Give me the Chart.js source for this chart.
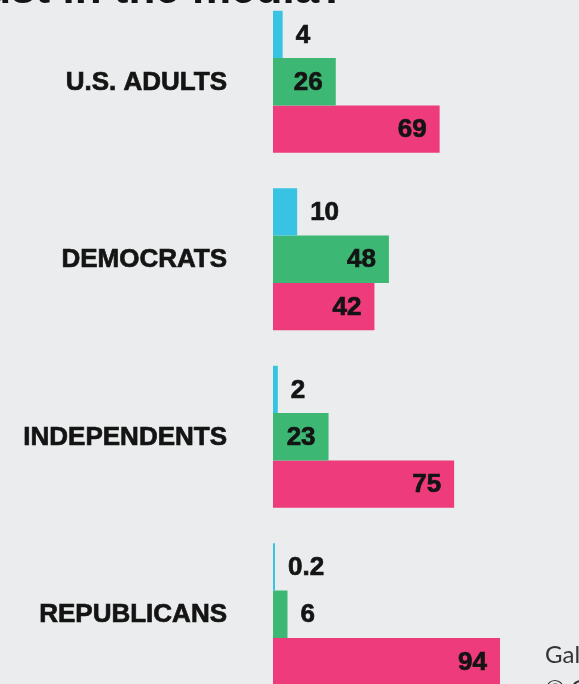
<!DOCTYPE html>
<html lang="en">
<head>
    <meta charset="UTF-8">
    <title>Trust in the media</title>
    <script src="https://cdn.jsdelivr.net/npm/chart.js"></script>
    <style>
        html, body { margin: 0; padding: 0; background: #ebeced; overflow: hidden; }
        .wrap { position: absolute; left: 0; top: -7px; width: 579px; height: 710px; }
    </style>
</head>
<body>
    <div class="wrap">
        <canvas id="barChart" width="579" height="710"></canvas>
    </div>

    <script>
        // Données
        const groups = ["U.S. ADULTS", "DEMOCRATS", "INDEPENDENTS", "REPUBLICANS"];
        const seriesNames = ["Great deal", "Fair amount", "Not very much / None at all"];
        const greatDeal = [4, 10, 2, 0.2];
        const fairAmount = [26, 48, 23, 6];
        const notMuch = [69, 42, 75, 94];

        const colors = ['#38c3e3', '#3db874', '#ee3b7b'];
        const ink = '#141414';
        const shift = 7; // canvas décalé de 7px vers le haut
        const boldFont = '"Liberation Sans", Arial, sans-serif';

        // texte un peu plus épais (police "black" dans l'original)
        function heavyText(ctx, txt, x, y) {
            ctx.fillText(txt, x, y);
            ctx.strokeText(txt, x, y);
        }

        // noms des groupes, étiquettes de valeur, titre coupé et source
        const labelsPlugin = {
            id: 'valueLabels',
            afterDatasetsDraw(chart) {
                const ctx = chart.ctx;
                const yScale = chart.scales.y;
                ctx.save();
                ctx.fillStyle = ink;
                ctx.strokeStyle = ink;
                ctx.lineWidth = 0.7;
                ctx.textBaseline = 'middle';

                // noms des groupes à gauche
                ctx.font = 'bold 26px ' + boldFont;
                ctx.textAlign = 'right';
                groups.forEach((g, i) => {
                    heavyText(ctx, g, 227, yScale.getPixelForValue(i) + 1);
                });

                // valeurs
                chart.data.datasets.forEach((ds, i) => {
                    chart.getDatasetMeta(i).data.forEach((bar, j) => {
                        const v = ds.data[j];
                        if (v >= 20) {
                            ctx.textAlign = 'right';
                            heavyText(ctx, String(v), bar.x - 13, bar.y + 1);
                        } else {
                            ctx.textAlign = 'left';
                            heavyText(ctx, String(v), bar.x + 13, bar.y + 1);
                        }
                    });
                });

                // titre (coupé en haut de l'image)
                ctx.font = 'bold 44px ' + boldFont;
                ctx.textAlign = 'right';
                ctx.textBaseline = 'alphabetic';
                ctx.fillText('How much trust in the media?', 346, 3 + shift);

                // source
                ctx.font = '24px Lato, "Open Sans", sans-serif';
                ctx.fillStyle = '#333333';
                ctx.textAlign = 'left';
                ctx.fillText('Gallup', 545, 663 + shift);
                ctx.fillText('© Gallup', 545, 697 + shift);
                ctx.restore();
            }
        };

        const ctx = document.getElementById('barChart').getContext('2d');
        new Chart(ctx, {
            type: 'bar',
            data: {
                labels: groups,
                datasets: [
                    { label: seriesNames[0], data: greatDeal, backgroundColor: colors[0], minBarLength: 2 },
                    { label: seriesNames[1], data: fairAmount, backgroundColor: colors[1] },
                    { label: seriesNames[2], data: notMuch, backgroundColor: colors[2] }
                ]
            },
            options: {
                indexAxis: 'y',
                responsive: false,
                animation: false,
                devicePixelRatio: 1,
                categoryPercentage: 0.8,
                barPercentage: 1,
                layout: { padding: { left: 273, right: 64.5, top: 0, bottom: 0 } },
                plugins: {
                    legend: { display: false },
                    tooltip: { enabled: false }
                },
                scales: {
                    x: { display: false, min: 0, max: 100 },
                    y: { display: false }
                }
            },
            plugins: [labelsPlugin]
        });
    </script>
</body>
</html>
